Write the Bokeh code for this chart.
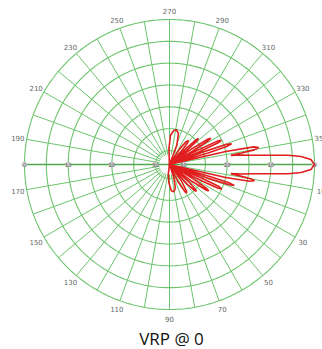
import numpy as np
from bokeh.plotting import figure
from bokeh.models import Range1d
from bokeh.core.properties import value
from bokeh.embed import file_html
from bokeh.resources import INLINE

# ---- data ----
# angle in degrees, measured clockwise from the right-hand direction (negative = above)
ANGLES = [-180, -100,
          -97, -92, -88, -83, -79, -74, -69, -64,
          -61, -57, -54, -52, -50, -48, -46,
          -45.5, -44, -43, -42, -40.5, -39.5, -38,
          -37, -35, -33.5, -32.5, -31.5, -30, -28.5,
          -28, -27, -26, -25, -24, -23, -22,
          -21.5, -20.5, -19.5, -18.5, -17.5, -16.5, -15.5,
          -14.5, -13, -11.8, -10.8, -9.8, -9, -8.5,
          -7.5, -6.5, -5.5, -4.5, -3.5, -2, 0, 2, 3.5, 4.5, 5.5, 6.5, 7.5,
          8.5, 9.5, 10, 10.8, 11.8, 13, 14.5,
          15.5, 16.5, 17.2, 18, 18.8, 19.8, 21,
          21.5, 23, 24, 25, 26, 27, 28.5,
          29, 31, 33, 34, 35, 37, 39,
          39.5, 42, 44, 45, 46, 48, 50.5,
          51, 54, 57.5, 59, 60.5, 64, 67,
          68, 72, 76, 81, 86, 92, 97, 101,
          110, 180]
# relative level in dB
LEVELS = [-33, -33,
          -33, -29.5, -26.5, -25.4, -25.1, -25.8, -28.5, -33,
          -33, -29, -26.8, -26.2, -26.8, -29, -33,
          -33, -28, -25, -24.3, -25, -28, -33,
          -33, -27, -22.7, -22, -22.7, -27, -33,
          -33, -26, -21, -20.1, -21, -26, -33,
          -33, -25, -19.5, -18.2, -19.5, -24, -33,
          -33, -20, -13.5, -12.4, -13.5, -16.5, -19,
          -16.5, -14.5, -11, -6, -3, -0.8, 0, -0.8, -3, -6, -11, -14.5, -16.5,
          -19, -16, -14.2, -13.4, -14.5, -20, -33,
          -33, -23, -18.8, -17.6, -18.8, -24, -33,
          -33, -25, -20.8, -20, -20.8, -25, -33,
          -33, -27, -23, -22.4, -23, -27, -33,
          -33, -27, -24.9, -24.5, -24.9, -27, -33,
          -33, -28.5, -25.9, -25.6, -26, -29, -33,
          -33, -30, -27.6, -26.9, -27.2, -29, -31, -33,
          -33, -33]

RING_LEVELS = [0, -5, -10, -15, -20, -25, -30]
RADIAL_LABEL_LEVELS = [0, -10, -20, -30]
RADIAL_LABELS = ["0", "10", "20", "30"]
SPOKE_ANGLES = list(range(0, 360, 10))
ANGLE_LABELS = ["10", "30", "50", "70", "90", "110", "130", "150", "170",
                "190", "210", "230", "250", "270", "290", "310", "330", "350"]
TITLE = "VRP @ 0"

# ---- layout ----
R_OUT = 145.0      # pixel radius of the 0 dB ring
DB_SPAN = 33.2     # dB represented by the full radius
GREEN = "#6cc46c"
RED = "#e01e1e"
W, H = 322, 349
CX, CY = 169, 164  # centre of the polar grid, pixels from top-left


def rad(level):
    return np.clip((np.asarray(level, float) + DB_SPAN) / DB_SPAN * R_OUT, 0, None)


def xy(theta_deg, r):
    t = np.deg2rad(np.asarray(theta_deg, float))
    return r * np.cos(t), -r * np.sin(t)


p = figure(width=W, height=H, output_backend="svg", toolbar_location=None,
           x_range=Range1d(-CX, W - CX), y_range=Range1d(-(H - CY), CY),
           min_border=0, outline_line_color=None)
p.axis.visible = False
p.grid.visible = False
p.background_fill_color = "white"

# rings
full = np.linspace(0, 360, 361)
for lv in RING_LEVELS:
    x, y = xy(full, rad(lv))
    p.line(x, y, line_color=GREEN, line_width=1.1)

# spokes
r_in = 10.0
for a in SPOKE_ANGLES:
    if a in (0, 180):
        continue
    x0, y0 = xy(a, r_in)
    x1, y1 = xy(a, R_OUT)
    p.line([x0, x1], [y0, y1], line_color=GREEN, line_width=1.0)

# horizontal axis
p.line([-R_OUT, R_OUT], [0, 0], line_color="#4fa84f", line_width=1.3)

# radial labels on both sides of the axis
for lv, lab in zip(RADIAL_LABEL_LEVELS, RADIAL_LABELS):
    r = float(rad(lv))
    for sx in (-1, 1):
        p.scatter([sx * r], [0], size=5, fill_color="#dddddd", line_color="#a0a0a0",
                  line_width=0.5)
        p.text([sx * r], [0], text=[lab], text_font=value("DejaVu Sans"),
               text_font_size="5px", text_color="#444444",
               text_align="center", text_baseline="middle")

# angle labels
lab_angles = [int(s) for s in ANGLE_LABELS]
lx, ly = xy(lab_angles, 154.0)
p.text(lx, ly, text=ANGLE_LABELS, text_font=value("DejaVu Sans"),
       text_font_size="7px", text_color="#666666",
       text_align="center", text_baseline="middle")

# pattern
px, py = xy(ANGLES, rad(LEVELS))
p.line(px, py, line_color=RED, line_width=1.6)

# title
p.text([2], [-(326 - CY)], text=[TITLE], text_font=value("Open Sans"),
       text_font_size="17px", text_color="#111111",
       text_align="center", text_baseline="top")

open("out.html", "w").write(file_html(p, INLINE))
